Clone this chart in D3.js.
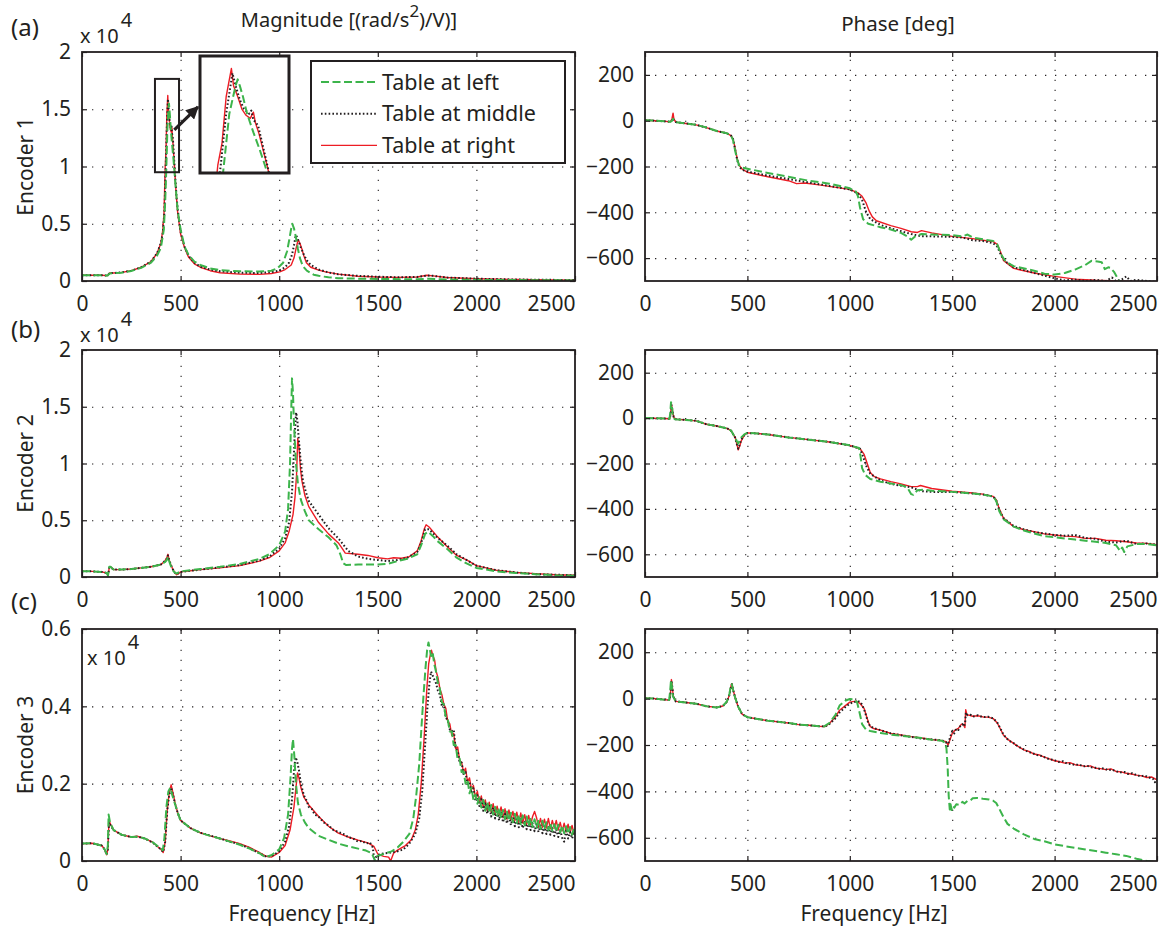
<!DOCTYPE html>
<html><head><meta charset="utf-8">
<script src="https://cdn.jsdelivr.net/npm/d3@7"></script>
<style>
body{margin:0;background:#fff;}
svg text{font-family:"Noto Sans",sans-serif;fill:#231f20;}
</style></head><body>
<svg id="c" width="1167" height="930"></svg>
<script>
// ---------------- data ----------------
const xTicks = [0, 500, 1000, 1500, 2000, 2500];
const magTicksAB = [0, 0.5, 1, 1.5, 2];
const magTicksC = [0, 0.2, 0.4, 0.6];
const phaseTicks = [-600, -400, -200, 0, 200];
const seriesNames = ["Table at left", "Table at middle", "Table at right"];
const rowTags = ["(a)", "(b)", "(c)"];
const rowLabels = ["Encoder  1", "Encoder  2", "Encoder  3"];

// Row (a) magnitude [x1e4]
const magA_left = [[0,0.05],[100,0.05],[130,0.047],[140,0.065],[160,0.068],[200,0.073],[250,0.088],[300,0.115],[350,0.16],[380,0.22],[400,0.29],[415,0.45],[422,0.7],[427,0.95],[433,1.33],[439,1.51],[441,1.55],[443,1.51],[446,1.44],[450,1.33],[456,1.21],[462,1.1],[467,1.0],[475,0.82],[485,0.62],[500,0.45],[520,0.3],[540,0.23],[570,0.17],[600,0.14],[650,0.11],[700,0.095],[800,0.085],[900,0.083],[960,0.09],[990,0.11],[1020,0.16],[1040,0.26],[1052,0.37],[1060,0.45],[1066,0.5],[1075,0.46],[1085,0.38],[1095,0.28],[1105,0.2],[1120,0.13],[1140,0.09],[1175,0.055],[1200,0.045],[1250,0.032],[1300,0.025],[1400,0.02],[1500,0.018],[1700,0.015],[1760,0.02],[1850,0.013],[2000,0.01],[2500,0.005],[2600,0.005]];
const magA_middle = [[0,0.05],[100,0.05],[130,0.048],[140,0.07],[160,0.07],[200,0.075],[250,0.09],[300,0.12],[350,0.17],[380,0.24],[400,0.33],[410,0.42],[418,0.6],[424,0.95],[430,1.33],[436,1.59],[439,1.51],[443,1.42],[447,1.36],[452,1.33],[454,1.35],[456,1.29],[459,1.27],[461,1.24],[471,0.95],[480,0.72],[490,0.55],[500,0.43],[520,0.3],[540,0.22],[570,0.16],[600,0.125],[650,0.1],[700,0.085],[800,0.072],[900,0.07],[960,0.078],[1000,0.09],[1030,0.12],[1050,0.16],[1065,0.23],[1075,0.31],[1084,0.4],[1092,0.38],[1100,0.34],[1110,0.29],[1125,0.23],[1140,0.18],[1160,0.14],[1200,0.1],[1250,0.075],[1300,0.058],[1400,0.045],[1500,0.037],[1600,0.033],[1700,0.035],[1750,0.048],[1780,0.045],[1850,0.03],[2000,0.02],[2200,0.013],[2500,0.008],[2600,0.007]];
const magA_right = [[0,0.05],[100,0.05],[130,0.047],[140,0.07],[160,0.07],[200,0.075],[250,0.09],[300,0.12],[350,0.17],[380,0.24],[400,0.33],[410,0.45],[416,0.6],[422,1.0],[426,1.14],[430,1.44],[435,1.62],[437,1.51],[441,1.44],[445,1.36],[449,1.32],[453,1.3],[456,1.34],[458,1.27],[461,1.21],[469,1.0],[476,0.8],[485,0.6],[500,0.41],[520,0.29],[540,0.21],[570,0.15],[600,0.12],[650,0.09],[700,0.072],[800,0.06],[900,0.058],[960,0.065],[1003,0.08],[1030,0.1],[1061,0.14],[1075,0.2],[1085,0.28],[1096,0.36],[1105,0.33],[1115,0.28],[1125,0.22],[1138,0.16],[1160,0.12],[1200,0.095],[1235,0.08],[1300,0.06],[1400,0.042],[1500,0.035],[1600,0.032],[1700,0.035],[1750,0.05],[1780,0.045],[1850,0.03],[2000,0.02],[2200,0.013],[2500,0.008],[2600,0.007]];

// Row (a) phase [deg]
const phA_left = [[0,2],[50,0],[100,-3],[125,-5],[133,2],[137,8],[141,0],[150,-6],[200,-12],[250,-18],[300,-30],[350,-45],[400,-55],[420,-65],[430,-85],[440,-130],[450,-170],[460,-195],[475,-205],[500,-210],[600,-228],[700,-245],[800,-262],[900,-275],[1000,-295],[1030,-310],[1040,-330],[1050,-380],[1065,-430],[1090,-450],[1150,-465],[1200,-475],[1250,-490],[1280,-505],[1300,-520],[1320,-505],[1350,-495],[1400,-497],[1500,-500],[1550,-505],[1575,-497],[1600,-510],[1650,-518],[1700,-525],[1720,-540],[1740,-585],[1760,-615],[1800,-635],[1900,-655],[1950,-668],[2000,-672],[2050,-665],[2100,-650],[2150,-630],[2180,-612],[2210,-615],[2230,-618],[2245,-648],[2262,-640],[2272,-642],[2290,-660],[2315,-700],[2400,-720]];
const phA_middle = [[0,2],[50,0],[100,-3],[125,-5],[133,3],[137,10],[141,2],[150,-6],[200,-12],[250,-18],[300,-30],[350,-45],[400,-55],[420,-65],[430,-80],[440,-125],[450,-170],[460,-200],[475,-215],[500,-222],[600,-240],[700,-255],[800,-270],[900,-285],[1000,-300],[1040,-318],[1060,-345],[1080,-400],[1100,-430],[1150,-455],[1200,-470],[1300,-495],[1350,-505],[1400,-505],[1500,-507],[1550,-510],[1600,-522],[1650,-525],[1700,-535],[1720,-550],[1740,-590],[1760,-615],[1800,-640],[1900,-665],[2000,-688],[2050,-698],[2100,-693],[2150,-700],[2200,-695],[2250,-700],[2280,-685],[2300,-700],[2330,-692],[2350,-680],[2370,-700],[2400,-695],[2450,-700],[2500,-705]];
const phA_right = [[0,2],[50,0],[100,-3],[125,-5],[132,10],[137,33],[141,8],[150,-6],[200,-12],[250,-18],[300,-30],[350,-45],[400,-55],[420,-65],[430,-80],[440,-120],[450,-165],[460,-195],[475,-212],[500,-225],[600,-245],[700,-262],[740,-275],[780,-272],[850,-280],[900,-287],[1000,-300],[1040,-315],[1060,-330],[1080,-360],[1095,-395],[1110,-420],[1130,-437],[1200,-458],[1250,-470],[1300,-485],[1330,-488],[1350,-480],[1400,-490],[1500,-505],[1600,-515],[1650,-522],[1700,-528],[1720,-540],[1735,-570],[1750,-610],[1800,-645],[1900,-665],[2000,-680],[2100,-692],[2200,-697],[2300,-700],[2500,-705]];

// Row (b) magnitude [x1e4]
const magB_left = [[0,0.05],[50,0.05],[100,0.045],[125,0.035],[132,0.015],[138,0.09],[145,0.09],[160,0.065],[200,0.065],[250,0.07],[300,0.08],[350,0.09],[400,0.11],[420,0.13],[430,0.15],[436,0.18],[442,0.14],[450,0.1],[460,0.06],[470,0.04],[480,0.03],[490,0.04],[500,0.05],[550,0.06],[600,0.07],[700,0.09],[800,0.115],[900,0.16],[950,0.2],[1000,0.28],[1030,0.4],[1045,0.6],[1055,1.0],[1060,1.4],[1065,1.75],[1070,1.62],[1075,1.35],[1085,1.0],[1095,0.82],[1110,0.68],[1130,0.58],[1150,0.5],[1200,0.42],[1250,0.35],[1290,0.28],[1310,0.2],[1325,0.12],[1340,0.105],[1400,0.11],[1450,0.11],[1500,0.11],[1550,0.115],[1600,0.14],[1650,0.16],[1700,0.2],[1720,0.28],[1740,0.38],[1755,0.4],[1780,0.36],[1800,0.32],[1850,0.25],[1900,0.17],[1950,0.12],[2000,0.08],[2100,0.05],[2200,0.035],[2300,0.025],[2400,0.015],[2500,0.01],[2600,0.01]];
const magB_middle = [[0,0.05],[50,0.05],[100,0.045],[125,0.035],[132,0.015],[138,0.08],[145,0.085],[160,0.065],[200,0.065],[250,0.07],[300,0.08],[350,0.09],[400,0.11],[420,0.14],[430,0.16],[436,0.19],[442,0.15],[450,0.11],[460,0.07],[470,0.04],[480,0.025],[490,0.035],[500,0.045],[550,0.055],[600,0.065],[700,0.085],[800,0.105],[900,0.145],[950,0.18],[1000,0.25],[1030,0.34],[1050,0.48],[1065,0.75],[1075,1.1],[1080,1.3],[1086,1.45],[1092,1.38],[1100,1.2],[1110,1.0],[1120,0.85],[1135,0.75],[1150,0.67],[1200,0.55],[1250,0.43],[1300,0.34],[1350,0.23],[1400,0.18],[1450,0.16],[1500,0.15],[1550,0.14],[1600,0.15],[1650,0.17],[1700,0.22],[1720,0.3],[1740,0.42],[1760,0.42],[1800,0.35],[1850,0.28],[1900,0.2],[1950,0.15],[2000,0.1],[2100,0.06],[2200,0.04],[2300,0.025],[2400,0.02],[2500,0.015],[2600,0.015]];
const magB_right = [[0,0.05],[50,0.05],[100,0.045],[125,0.035],[132,0.01],[138,0.08],[145,0.09],[160,0.065],[200,0.065],[250,0.07],[300,0.08],[350,0.09],[400,0.11],[420,0.14],[430,0.17],[436,0.2],[442,0.15],[450,0.11],[460,0.07],[470,0.04],[480,0.02],[490,0.03],[500,0.045],[550,0.055],[600,0.065],[700,0.08],[800,0.1],[900,0.14],[950,0.17],[1000,0.23],[1030,0.3],[1050,0.4],[1070,0.55],[1080,0.7],[1088,0.9],[1094,1.22],[1100,1.15],[1108,0.95],[1115,0.85],[1130,0.72],[1150,0.62],[1200,0.48],[1250,0.38],[1300,0.3],[1320,0.25],[1335,0.21],[1400,0.2],[1450,0.19],[1500,0.17],[1550,0.16],[1580,0.17],[1620,0.165],[1660,0.18],[1700,0.23],[1720,0.32],[1735,0.42],[1745,0.46],[1760,0.44],[1800,0.36],[1850,0.27],[1900,0.19],[1950,0.15],[2000,0.1],[2100,0.06],[2200,0.04],[2300,0.03],[2400,0.02],[2500,0.015],[2600,0.015]];

// Row (b) phase [deg]
const phB_left = [[0,0],[100,-2],[120,-3],[124,30],[127,70],[131,55],[136,10],[145,-5],[200,-8],[250,-12],[300,-27],[350,-35],[400,-45],[420,-55],[440,-85],[450,-105],[455,-112],[462,-100],[470,-85],[485,-72],[500,-65],[550,-68],[600,-72],[700,-85],[800,-95],[900,-105],[1000,-120],[1045,-132],[1052,-165],[1060,-220],[1075,-250],[1100,-268],[1150,-280],[1200,-288],[1250,-295],[1280,-305],[1300,-335],[1310,-338],[1330,-318],[1360,-315],[1400,-320],[1500,-325],[1600,-332],[1650,-337],[1700,-345],[1715,-365],[1730,-410],[1750,-445],[1800,-478],[1850,-495],[1900,-508],[1950,-520],[2000,-525],[2050,-530],[2100,-535],[2150,-540],[2200,-545],[2250,-550],[2300,-560],[2320,-585],[2330,-570],[2340,-590],[2355,-565],[2400,-555],[2450,-555],[2500,-560],[2600,-565]];
const phB_middle = [[0,0],[100,-2],[120,-3],[125,15],[129,58],[133,40],[140,5],[150,-5],[200,-8],[250,-12],[300,-27],[350,-35],[400,-45],[420,-55],[440,-85],[450,-120],[455,-135],[462,-118],[470,-95],[485,-75],[500,-66],[550,-68],[600,-72],[700,-85],[800,-95],[900,-105],[1000,-120],[1050,-135],[1065,-170],[1080,-210],[1100,-245],[1150,-275],[1200,-290],[1250,-298],[1300,-305],[1350,-322],[1400,-325],[1450,-325],[1500,-325],[1600,-332],[1650,-337],[1700,-345],[1715,-362],[1730,-405],[1750,-440],[1800,-475],[1850,-490],[1900,-502],[1950,-508],[2000,-515],[2050,-518],[2100,-515],[2150,-528],[2200,-532],[2250,-545],[2300,-548],[2350,-540],[2400,-555],[2450,-552],[2500,-558],[2600,-565]];
const phB_right = [[0,0],[100,-2],[120,-3],[125,15],[129,62],[133,40],[140,5],[150,-5],[200,-8],[250,-12],[300,-27],[350,-35],[400,-45],[420,-55],[440,-85],[450,-120],[455,-140],[462,-125],[470,-100],[485,-75],[500,-65],[550,-68],[600,-72],[700,-85],[800,-95],[900,-105],[1000,-120],[1050,-135],[1070,-160],[1085,-200],[1100,-240],[1120,-258],[1150,-268],[1200,-280],[1250,-290],[1300,-302],[1330,-302],[1345,-297],[1400,-310],[1500,-322],[1600,-330],[1650,-335],[1700,-345],[1715,-360],[1730,-400],[1750,-440],[1800,-478],[1850,-492],[1900,-500],[1950,-510],[2000,-515],[2050,-520],[2100,-522],[2150,-530],[2200,-530],[2250,-538],[2300,-540],[2350,-545],[2400,-550],[2450,-552],[2500,-558],[2600,-565]];

// Row (c) magnitude [x1e4]
const magC_left = [[0,0.045],[50,0.046],[100,0.04],[115,0.03],[125,0.018],[131,0.04],[135,0.12],[142,0.1],[160,0.08],[200,0.068],[250,0.062],[280,0.063],[320,0.058],[360,0.048],[400,0.032],[410,0.028],[418,0.06],[428,0.14],[438,0.18],[448,0.19],[458,0.17],[470,0.15],[485,0.125],[500,0.105],[550,0.085],[600,0.073],[650,0.065],[700,0.058],[750,0.05],[800,0.042],[850,0.032],[900,0.02],[930,0.01],[960,0.015],[1000,0.03],[1025,0.06],[1045,0.12],[1058,0.22],[1065,0.29],[1070,0.315],[1077,0.27],[1085,0.2],[1095,0.15],[1110,0.12],[1130,0.1],[1150,0.085],[1175,0.075],[1200,0.065],[1250,0.055],[1300,0.045],[1350,0.038],[1400,0.032],[1440,0.027],[1470,0.02],[1480,0.008],[1488,0.0],[1495,0.012],[1510,0.015],[1540,0.02],[1570,0.025],[1600,0.035],[1630,0.05],[1660,0.07],[1680,0.11],[1695,0.17],[1710,0.25],[1722,0.35],[1732,0.43],[1742,0.5],[1750,0.545],[1757,0.565],[1763,0.55],[1770,0.53],[1778,0.54],[1786,0.51],[1795,0.49],[1805,0.46],[1815,0.445],[1825,0.41],[1835,0.405],[1845,0.37],[1855,0.365],[1865,0.335],[1875,0.335],[1885,0.3],[1895,0.3],[1905,0.262],[1915,0.265],[1925,0.23],[1935,0.232],[1945,0.2],[1955,0.21],[1965,0.175],[1975,0.19],[1985,0.158],[1995,0.172],[2005,0.148],[2015,0.165],[2025,0.138],[2035,0.158],[2045,0.13],[2055,0.152],[2065,0.125],[2075,0.145],[2085,0.12],[2095,0.14],[2105,0.115],[2115,0.138],[2125,0.11],[2135,0.132],[2145,0.108],[2155,0.128],[2165,0.104],[2175,0.125],[2185,0.1],[2195,0.122],[2205,0.098],[2215,0.12],[2225,0.095],[2235,0.118],[2245,0.092],[2255,0.115],[2265,0.09],[2275,0.112],[2285,0.088],[2295,0.108],[2305,0.086],[2315,0.106],[2325,0.083],[2335,0.104],[2345,0.082],[2355,0.1],[2365,0.08],[2375,0.098],[2385,0.078],[2395,0.095],[2405,0.076],[2415,0.094],[2425,0.074],[2435,0.092],[2445,0.072],[2455,0.09],[2465,0.07],[2475,0.088],[2485,0.068],[2495,0.085],[2505,0.07]];
const magC_middle = [[0,0.045],[50,0.046],[100,0.04],[115,0.03],[125,0.017],[131,0.03],[137,0.1],[145,0.092],[160,0.08],[200,0.068],[250,0.062],[280,0.063],[320,0.058],[360,0.047],[400,0.03],[412,0.023],[422,0.05],[432,0.13],[442,0.17],[452,0.19],[462,0.17],[472,0.148],[485,0.125],[500,0.105],[550,0.085],[600,0.073],[650,0.066],[700,0.058],[750,0.05],[800,0.043],[850,0.033],[900,0.02],[930,0.012],[960,0.012],[1000,0.025],[1030,0.05],[1050,0.09],[1065,0.16],[1075,0.23],[1082,0.268],[1090,0.26],[1100,0.235],[1110,0.2],[1125,0.17],[1140,0.155],[1150,0.14],[1165,0.135],[1180,0.12],[1200,0.115],[1225,0.1],[1250,0.092],[1275,0.08],[1300,0.075],[1325,0.07],[1350,0.062],[1375,0.058],[1400,0.05],[1420,0.052],[1440,0.045],[1460,0.048],[1475,0.035],[1482,0.0],[1490,0.01],[1510,0.018],[1540,0.02],[1570,0.022],[1600,0.025],[1630,0.03],[1660,0.045],[1690,0.07],[1710,0.11],[1725,0.18],[1740,0.3],[1752,0.4],[1762,0.46],[1770,0.49],[1778,0.48],[1786,0.47],[1795,0.46],[1805,0.44],[1815,0.43],[1825,0.4],[1835,0.405],[1845,0.37],[1855,0.365],[1865,0.34],[1875,0.335],[1885,0.34],[1895,0.29],[1905,0.285],[1915,0.255],[1925,0.255],[1935,0.225],[1945,0.23],[1955,0.195],[1965,0.205],[1975,0.175],[1985,0.188],[1995,0.155],[2005,0.17],[2015,0.142],[2025,0.16],[2035,0.13],[2045,0.152],[2055,0.122],[2065,0.145],[2075,0.115],[2085,0.138],[2095,0.11],[2105,0.132],[2115,0.105],[2125,0.128],[2135,0.1],[2145,0.122],[2155,0.097],[2165,0.118],[2175,0.093],[2185,0.115],[2195,0.09],[2205,0.112],[2215,0.087],[2225,0.108],[2235,0.085],[2245,0.105],[2255,0.082],[2265,0.1],[2275,0.08],[2285,0.098],[2295,0.077],[2305,0.095],[2315,0.075],[2325,0.092],[2335,0.072],[2345,0.09],[2355,0.07],[2365,0.088],[2375,0.068],[2385,0.085],[2395,0.065],[2405,0.082],[2415,0.062],[2425,0.08],[2435,0.06],[2445,0.05],[2455,0.078],[2465,0.058],[2475,0.075],[2485,0.058],[2495,0.072],[2505,0.065]];
const magC_right = [[0,0.045],[50,0.046],[100,0.04],[115,0.03],[125,0.016],[131,0.03],[137,0.105],[145,0.095],[160,0.08],[200,0.068],[250,0.062],[280,0.064],[320,0.058],[360,0.048],[400,0.03],[412,0.022],[422,0.05],[432,0.13],[442,0.175],[452,0.197],[462,0.175],[472,0.15],[485,0.125],[500,0.105],[550,0.085],[600,0.073],[650,0.065],[700,0.058],[750,0.052],[800,0.045],[850,0.035],[900,0.022],[930,0.013],[960,0.01],[1000,0.022],[1030,0.04],[1055,0.08],[1075,0.14],[1085,0.19],[1093,0.228],[1100,0.215],[1110,0.19],[1125,0.165],[1150,0.145],[1175,0.13],[1200,0.115],[1250,0.09],[1300,0.072],[1350,0.062],[1400,0.054],[1450,0.047],[1480,0.038],[1500,0.018],[1530,0.012],[1555,0.01],[1565,0.0],[1580,0.02],[1600,0.028],[1640,0.04],[1670,0.055],[1690,0.08],[1705,0.12],[1720,0.2],[1735,0.32],[1748,0.44],[1758,0.51],[1765,0.53],[1772,0.545],[1780,0.53],[1788,0.52],[1796,0.49],[1805,0.475],[1815,0.445],[1825,0.43],[1835,0.405],[1845,0.395],[1855,0.36],[1865,0.355],[1875,0.325],[1885,0.33],[1895,0.29],[1905,0.295],[1915,0.26],[1925,0.255],[1935,0.23],[1945,0.24],[1955,0.205],[1965,0.215],[1975,0.185],[1985,0.195],[1995,0.165],[2005,0.18],[2015,0.15],[2025,0.168],[2035,0.138],[2045,0.158],[2055,0.13],[2065,0.152],[2075,0.125],[2085,0.148],[2095,0.12],[2105,0.142],[2115,0.118],[2125,0.14],[2135,0.112],[2145,0.135],[2155,0.108],[2165,0.132],[2175,0.106],[2185,0.128],[2195,0.104],[2205,0.126],[2215,0.1],[2225,0.124],[2235,0.098],[2245,0.12],[2255,0.095],[2265,0.118],[2275,0.094],[2285,0.115],[2295,0.128],[2305,0.112],[2315,0.088],[2325,0.11],[2335,0.087],[2345,0.108],[2355,0.085],[2365,0.11],[2375,0.083],[2385,0.105],[2395,0.085],[2405,0.105],[2415,0.08],[2425,0.1],[2435,0.078],[2445,0.098],[2455,0.075],[2465,0.095],[2475,0.072],[2485,0.092],[2495,0.07],[2505,0.085]];

// Row (c) phase [deg]
const phC_left = [[0,2],[50,0],[100,-5],[118,-6],[123,35],[127,80],[131,55],[136,10],[150,-12],[200,-17],[250,-22],[300,-33],[350,-38],[380,-32],[400,-12],[412,20],[420,60],[424,62],[430,38],[440,5],[455,-35],[475,-68],[500,-80],[550,-88],[600,-95],[700,-105],[750,-112],[800,-115],[850,-119],[875,-120],[900,-105],[930,-70],[950,-30],[980,-8],[1000,-2],[1020,-3],[1035,-15],[1045,-50],[1060,-110],[1080,-135],[1100,-140],[1150,-148],[1200,-155],[1250,-160],[1300,-165],[1350,-170],[1400,-177],[1450,-182],[1465,-190],[1472,-215],[1478,-300],[1483,-420],[1488,-478],[1492,-455],[1497,-480],[1503,-462],[1510,-470],[1520,-455],[1535,-458],[1550,-445],[1560,-452],[1575,-440],[1590,-438],[1600,-430],[1620,-428],[1650,-432],[1680,-435],[1700,-440],[1715,-450],[1730,-475],[1750,-510],[1770,-540],[1800,-560],[1850,-585],[1900,-605],[1950,-615],[2000,-628],[2050,-636],[2100,-643],[2150,-650],[2200,-657],[2250,-664],[2300,-671],[2350,-678],[2400,-690],[2450,-700],[2500,-705],[2520,-708]];
const phC_middle = [[0,2],[50,0],[100,-5],[120,-6],[125,28],[129,78],[133,52],[138,10],[150,-12],[200,-17],[250,-22],[300,-33],[350,-38],[380,-32],[400,-14],[412,15],[420,52],[424,62],[430,38],[440,5],[455,-35],[475,-68],[500,-80],[550,-88],[600,-95],[700,-105],[750,-112],[800,-115],[850,-119],[880,-120],[900,-110],[930,-85],[950,-60],[980,-35],[1000,-22],[1020,-15],[1045,-12],[1060,-25],[1075,-60],[1090,-105],[1100,-120],[1120,-128],[1150,-136],[1200,-150],[1250,-158],[1300,-165],[1350,-172],[1400,-176],[1450,-180],[1470,-188],[1478,-205],[1485,-180],[1492,-160],[1500,-140],[1510,-150],[1520,-130],[1530,-135],[1540,-118],[1550,-110],[1558,-120],[1563,-105],[1567,-60],[1575,-72],[1590,-70],[1600,-78],[1625,-72],[1650,-80],[1675,-78],[1700,-85],[1720,-103],[1735,-128],[1750,-155],[1775,-180],[1800,-192],[1820,-205],[1840,-215],[1860,-225],[1880,-232],[1900,-238],[1920,-245],[1940,-248],[1960,-257],[1980,-262],[2000,-266],[2020,-273],[2040,-270],[2060,-280],[2080,-282],[2100,-286],[2120,-284],[2140,-292],[2160,-290],[2180,-296],[2200,-298],[2220,-303],[2240,-300],[2260,-308],[2280,-306],[2300,-313],[2320,-318],[2340,-316],[2360,-325],[2380,-322],[2400,-330],[2420,-335],[2440,-332],[2460,-340],[2480,-345],[2490,-360],[2500,-348],[2520,-355]];
const phC_right = [[0,2],[50,0],[100,-5],[120,-6],[125,30],[129,82],[133,55],[138,10],[150,-12],[200,-17],[250,-22],[300,-33],[350,-38],[380,-32],[400,-14],[412,15],[420,55],[424,64],[430,40],[440,5],[455,-35],[475,-68],[500,-80],[550,-88],[600,-95],[700,-105],[750,-112],[800,-115],[850,-119],[880,-120],[900,-107],[930,-79],[950,-50],[980,-29],[1000,-15],[1030,-11],[1050,-21],[1070,-43],[1090,-100],[1100,-121],[1120,-130],[1150,-136],[1200,-150],[1250,-157],[1300,-164],[1350,-170],[1400,-176],[1450,-181],[1470,-186],[1480,-200],[1490,-175],[1500,-150],[1515,-135],[1530,-128],[1545,-110],[1555,-112],[1562,-125],[1566,-48],[1572,-70],[1585,-72],[1600,-76],[1625,-74],[1650,-79],[1675,-80],[1700,-86],[1720,-105],[1735,-130],[1750,-157],[1775,-178],[1800,-193],[1825,-208],[1850,-221],[1875,-228],[1900,-239],[1925,-243],[1950,-252],[1975,-260],[2000,-268],[2025,-272],[2050,-278],[2075,-276],[2100,-285],[2125,-288],[2150,-292],[2175,-290],[2200,-300],[2225,-302],[2250,-306],[2275,-303],[2300,-314],[2325,-316],[2350,-322],[2375,-325],[2400,-330],[2425,-333],[2450,-340],[2475,-338],[2500,-350],[2520,-352]];

// zoom inset of row (a) peak
const insetHz = [405, 490];
const insetVal = [0.95, 1.70];
const zoomRectHz = [370, 492];
const zoomRectVal = [0.95, 1.765];

// ---------------- styles ----------------
const INK = "#231f20";
const styles = {
  left:   {stroke:"#3cb44b", width:2.0, dash:"8,3.5"},
  middle: {stroke:"#231f20", width:2.0, dash:"1.6,2.2"},
  right:  {stroke:"#ed1c24", width:1.4, dash:null}
};
const FONT = '"Noto Sans", sans-serif';
const FS = 21;

// ---------------- layout ----------------
const magX = [82, 575], phX = [645, 1157];
const rowY = [[52, 281], [350, 577], [629, 861]];

const svg = d3.select("#c");
let clipId = 0;

function styleLine(sel, st) {
  sel.attr("fill","none").attr("stroke",st.stroke).attr("stroke-width",st.width)
     .attr("stroke-linejoin","round");
  if (st.dash) sel.attr("stroke-dasharray", st.dash);
}

function drawPanel(xr, yr, yDomain, yTicks, yFmt, series) {
  const x = d3.scaleLinear().domain([0, 2500]).range(xr);
  const y = d3.scaleLinear().domain(yDomain).range([yr[1], yr[0]]);
  const w = xr[1]-xr[0], h = yr[1]-yr[0];
  const g = svg.append("g");
  const gx = g.append("g").attr("transform",`translate(0,${yr[1]})`)
    .call(d3.axisBottom(x).tickValues(xTicks.filter(v=>v>0&&v<2500)).tickSize(-h).tickFormat(""));
  const gy = g.append("g").attr("transform",`translate(${xr[0]},0)`)
    .call(d3.axisLeft(y).tickValues(yTicks.filter(v=>v>yDomain[0]&&v<yDomain[1])).tickSize(-w).tickFormat(""));
  [gx, gy].forEach(s => {
    s.select(".domain").remove();
    s.selectAll("line").attr("stroke",INK).attr("stroke-width",1.1).attr("stroke-dasharray","1.3,8.7");
  });
  const id = "clip" + (clipId++);
  svg.append("defs").append("clipPath").attr("id", id)
    .append("rect").attr("x",xr[0]).attr("y",yr[0]).attr("width",w).attr("height",h);
  const lg = g.append("g").attr("clip-path",`url(#${id})`);
  const line = d3.line().x(d=>x(d[0])).y(d=>y(d[1]));
  series.forEach(s => lg.append("path").datum(s.data).attr("d", line).call(styleLine, styles[s.key]));
  const ax = [
    g.append("g").attr("transform",`translate(0,${yr[1]})`)
      .call(d3.axisBottom(x).tickValues(xTicks).tickSize(-5).tickPadding(15).tickFormat(d3.format("d"))),
    g.append("g").attr("transform",`translate(0,${yr[0]})`)
      .call(d3.axisTop(x).tickValues(xTicks).tickSize(-5).tickFormat("")),
    g.append("g").attr("transform",`translate(${xr[0]},0)`)
      .call(d3.axisLeft(y).tickValues(yTicks).tickSize(-5).tickPadding(11).tickFormat(yFmt)),
    g.append("g").attr("transform",`translate(${xr[1]},0)`)
      .call(d3.axisRight(y).tickValues(yTicks).tickSize(-5).tickFormat(""))
  ];
  ax.forEach(a => {
    a.select(".domain").remove();
    a.attr("font-family", FONT).attr("font-size", FS).style("color", INK);
    a.selectAll("line").attr("stroke-width", 1.2);
    a.selectAll("text").attr("fill", INK);
  });
  ax[0].selectAll(".tick text").filter(d => d === 2500).attr("text-anchor","end");
  g.append("rect").attr("x",xr[0]).attr("y",yr[0]).attr("width",w).attr("height",h)
    .attr("fill","none").attr("stroke",INK).attr("stroke-width",1.8);
  return {x, y, g};
}

const magData = [
  {left:magA_left, middle:magA_middle, right:magA_right},
  {left:magB_left, middle:magB_middle, right:magB_right},
  {left:magC_left, middle:magC_middle, right:magC_right}
];
const phData = [
  {left:phA_left, middle:phA_middle, right:phA_right},
  {left:phB_left, middle:phB_middle, right:phB_right},
  {left:phC_left, middle:phC_middle, right:phC_right}
];
const order = ["right", "middle", "left"];
const magFmt = d => String(d);
const phFmt = d3.format("d");

const panels = [];
rowY.forEach((yr, i) => {
  const dom = i < 2 ? [0, 2] : [0, 0.6];
  const ticks = i < 2 ? magTicksAB : magTicksC;
  const mp = drawPanel(magX, yr, dom, ticks, magFmt, order.map(k => ({key:k, data:magData[i][k]})));
  const pp = drawPanel(phX, yr, [-700, 300], phaseTicks, phFmt, order.map(k => ({key:k, data:phData[i][k]})));
  panels.push({mp, pp});
  svg.append("text").attr("transform",`translate(33,${(yr[0]+yr[1])/2}) rotate(-90)`)
    .attr("text-anchor","middle").attr("font-size",FS).attr("font-family",FONT).text(rowLabels[i]);
});

[[36, 0], [338, 1], [610, 2]].forEach(([yy, i]) =>
  svg.append("text").attr("x",11).attr("y",yy).attr("font-size",24).attr("font-family",FONT).text(rowTags[i]));

function expLabel(xx, yy) {
  const t = svg.append("text").attr("x",xx).attr("y",yy).attr("font-size",20).attr("font-family",FONT);
  t.append("tspan").text("x 10");
  t.append("tspan").attr("dy",-16).attr("dx",2).text("4");
}
expLabel(80, 43);
expLabel(80, 342);
expLabel(87, 665);

const tt = svg.append("text").attr("x",349).attr("y",27).attr("text-anchor","middle")
  .attr("font-size",20).attr("font-family",FONT);
tt.append("tspan").text("Magnitude [(rad/s");
tt.append("tspan").attr("dy",-10).attr("font-size",17).text("2");
tt.append("tspan").attr("dy",10).text(")/V)]");
svg.append("text").attr("x",898).attr("y",31).attr("text-anchor","middle")
  .attr("font-size",20.5).attr("font-family",FONT).text("Phase [deg]");

svg.append("text").attr("x",302).attr("y",921).attr("text-anchor","middle")
  .attr("font-size",FS).attr("font-family",FONT).text("Frequency [Hz]");
svg.append("text").attr("x",874).attr("y",921).attr("text-anchor","middle")
  .attr("font-size",FS).attr("font-family",FONT).text("Frequency [Hz]");

const A = panels[0].mp;
svg.append("rect").attr("x",A.x(zoomRectHz[0])).attr("y",A.y(zoomRectVal[1]))
  .attr("width",A.x(zoomRectHz[1])-A.x(zoomRectHz[0])).attr("height",A.y(zoomRectVal[0])-A.y(zoomRectVal[1]))
  .attr("fill","none").attr("stroke",INK).attr("stroke-width",2);

const insetX = d3.scaleLinear().domain(insetHz).range([200, 289]);
const insetY = d3.scaleLinear().domain(insetVal).range([173, 56]);
svg.append("rect").attr("x",200).attr("y",56).attr("width",89).attr("height",117).attr("fill","#fff");
svg.append("defs").append("clipPath").attr("id","insetClip")
  .append("rect").attr("x",200).attr("y",56).attr("width",89).attr("height",117);
const ig = svg.append("g").attr("clip-path","url(#insetClip)");
const iline = d3.line().x(d=>insetX(d[0])).y(d=>insetY(d[1]));
order.forEach(k => ig.append("path").datum(magData[0][k]).attr("d", iline).call(styleLine, styles[k]));
svg.append("rect").attr("x",200).attr("y",56).attr("width",89).attr("height",117)
  .attr("fill","none").attr("stroke",INK).attr("stroke-width",3);

svg.append("defs").append("marker").attr("id","ah").attr("viewBox","0 0 10 10").attr("refX",9).attr("refY",5)
  .attr("markerWidth",4).attr("markerHeight",4).attr("orient","auto")
  .append("path").attr("d","M0,0L10,5L0,10z").attr("fill",INK);
svg.append("line").attr("x1",A.x(468)).attr("y1",A.y(1.32)).attr("x2",A.x(588)).attr("y2",A.y(1.52))
  .attr("stroke",INK).attr("stroke-width",3.2).attr("marker-end","url(#ah)");

const leg = svg.append("g");
leg.append("rect").attr("x",311).attr("y",61).attr("width",254).attr("height",102)
  .attr("fill","#fff").attr("stroke",INK).attr("stroke-width",2);
["left","middle","right"].forEach((k, i) => {
  const yy = 82 + i*31.7;
  leg.append("line").attr("x1",321).attr("x2",377).attr("y1",yy).attr("y2",yy).call(styleLine, styles[k]);
  leg.append("text").attr("x",382).attr("y",yy).attr("dy","0.35em").attr("font-size",21.5)
    .attr("font-family",FONT).text(seriesNames[i]);
});
</script>
</body></html>
